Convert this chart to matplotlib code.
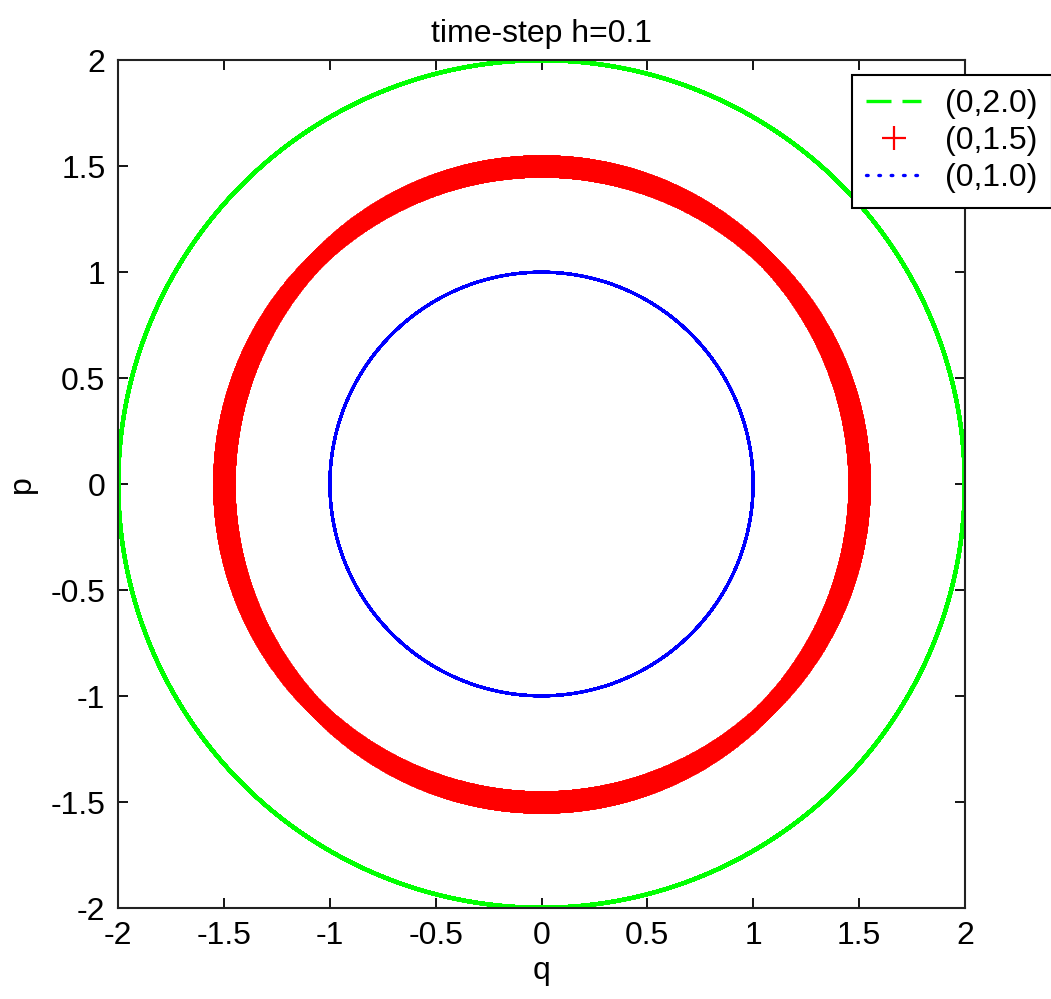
import numpy as np
import matplotlib
matplotlib.use("Agg")
import matplotlib.pyplot as plt
from matplotlib.lines import Line2D


# initial conditions (q0, p0) of the three runs, and the integrator settings
Q0 = [0.0, 0.0, 0.0]
P0 = [2.0, 1.5, 1.0]
LABELS = ["(0,2.0)", "(0,1.5)", "(0,1.0)"]
H = 0.1
N_STEPS = 5000

TICKS = [-2, -1.5, -1, -0.5, 0, 0.5, 1, 1.5, 2]
TICK_LABELS = ["-2", "-1.5", "-1", "-0.5", "0", "0.5", "1", "1.5", "2"]


def midpoint_orbit(q0, p0, h, n):
    # implicit midpoint rule for q' = p, p' = -q (solved in closed form)
    a = h / 2.0
    q = np.empty(n + 1)
    p = np.empty(n + 1)
    q[0], p[0] = q0, p0
    for k in range(n):
        q[k + 1] = ((1 - a * a) * q[k] + h * p[k]) / (1 + a * a)
        p[k + 1] = ((1 - a * a) * p[k] - h * q[k]) / (1 + a * a)
    return q, p


def main():
    plt.rcParams["font.family"] = ["Liberation Sans", "DejaVu Sans"]
    plt.rcParams["axes.unicode_minus"] = False
    fs = 23

    fig = plt.figure(figsize=(10.51, 9.99), dpi=100)
    ax = fig.add_axes([118 / 1051, 1 - 908 / 999, 847 / 1051, 848 / 999])

    q, p = midpoint_orbit(Q0[0], P0[0], H, N_STEPS)
    ax.plot(q, p, color=(0, 1, 0), lw=2.4)

    q, p = midpoint_orbit(Q0[1], P0[1], H, N_STEPS)
    ax.plot(q, p, ls="none", marker="+", color=(1, 0, 0),
            markersize=15.5, markeredgewidth=2.0)

    q, p = midpoint_orbit(Q0[2], P0[2], H, N_STEPS)
    ax.plot(q, p, color=(0, 0, 1), lw=1.8)

    ax.set_xlim(-2, 2)
    ax.set_ylim(-2, 2)
    ax.set_xticks(TICKS)
    ax.set_xticklabels(TICK_LABELS)
    ax.set_yticks(TICKS)
    ax.set_yticklabels(TICK_LABELS)
    ax.tick_params(direction="in", length=7, width=1.3, top=True, right=True,
                   labelsize=fs, color="black")
    ax.tick_params(axis="x", pad=9)
    ax.tick_params(axis="y", pad=9)
    for s in ax.spines.values():
        s.set_linewidth(1.5)
        s.set_color("#222222")

    ax.set_xlabel("q", fontsize=fs, labelpad=4)
    ax.set_ylabel("p", fontsize=fs, labelpad=10)
    ax.set_title("time-step h=0.1", fontsize=fs, pad=13)

    handles = [
        Line2D([], [], color=(0, 1, 0), lw=2.4, ls=(0, (7.5, 3.3))),
        Line2D([], [], color=(1, 0, 0), ls="none", marker="+",
               markersize=17, markeredgewidth=1.6),
        Line2D([], [], color=(0, 0, 1), lw=2.4, ls=(0, (0.5, 3.2)),
               dash_capstyle="round"),
    ]
    leg = fig.legend(handles, LABELS, loc="upper left",
                     bbox_to_anchor=(852 / 1051, 1 - 75 / 999),
                     fontsize=fs, frameon=True, fancybox=False,
                     handlelength=1.7, handletextpad=0.75,
                     labelspacing=0.22, borderpad=0.45, borderaxespad=0)
    leg.get_frame().set_edgecolor("black")
    leg.get_frame().set_linewidth(1.5)
    leg.get_frame().set_alpha(1)

    fig.savefig("out.png", dpi=100)


if __name__ == "__main__":
    main()
